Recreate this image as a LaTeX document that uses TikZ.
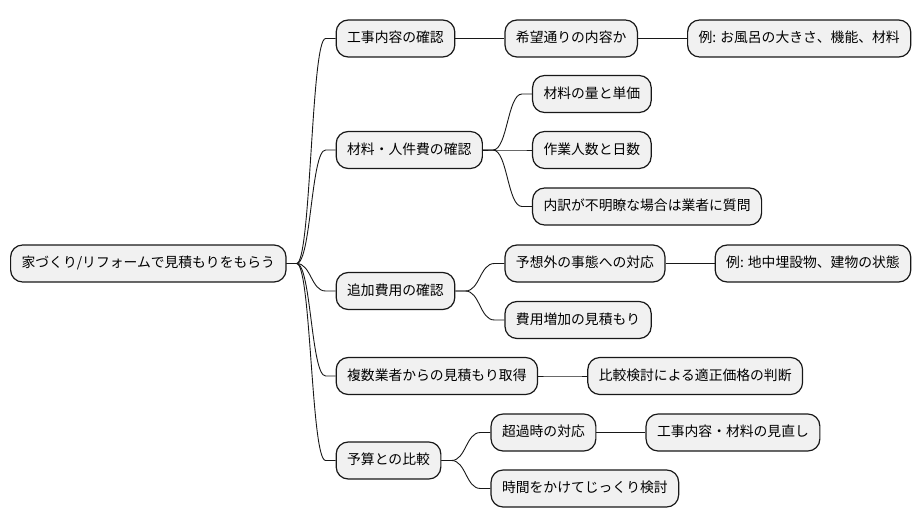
\documentclass[tikz,border=0pt]{standalone}
\usepackage{fontspec}
\setmainfont{Noto Sans CJK JP}
\definecolor{cline}{HTML}{181818}
\definecolor{cfill}{HTML}{F1F1F1}
\newcommand\mmedge[2]{\draw[edge] (#1.east) -- ++(10,0) .. controls +(14.5,0) and +(-14.5,0) .. ([xshift=-10pt]#2.west) -- (#2.west);}
\begin{document}
\begin{tikzpicture}[x=1pt,y=-1pt,
  box/.style={draw=cline, fill=cfill, line width=1.2pt, rounded corners=12pt,
    minimum height=37pt, inner xsep=11pt, inner ysep=0pt, anchor=west,
    text height=11.3pt, text depth=2.5pt,
    font=\fontsize{13.8pt}{16pt}\selectfont},
  edge/.style={draw=cline, line width=0.9pt}]
\useasboundingbox (0,0) rectangle (922,527);
\node[box] (root) at (10,263.5) {家づくり/リフォームで見積もりをもらう};
% level 1
\node[box, xshift=49pt] (A) at (root.east |- 0,38.5) {工事内容の確認};
\node[box, xshift=49pt] (B) at (root.east |- 0,150) {材料・人件費の確認};
\node[box, xshift=49pt] (C) at (root.east |- 0,291) {追加費用の確認};
\node[box, xshift=49pt] (D) at (root.east |- 0,376) {複数業者からの見積もり取得};
\node[box, xshift=49pt] (E) at (root.east |- 0,460.5) {予算との比較};
% level 2
\node[box, xshift=49pt] (A1) at (A.east |- 0,38.5) {希望通りの内容か};
\node[box, xshift=49pt] (A1a) at (A1.east |- 0,38.5) {例: お風呂の大きさ、機能、材料};
\node[box, xshift=49pt] (B1) at (B.east |- 0,94) {材料の量と単価};
\node[box, xshift=49pt] (B2) at (B.east |- 0,150) {作業人数と日数};
\node[box, xshift=49pt] (B3) at (B.east |- 0,206.5) {内訳が不明瞭な場合は業者に質問};
\node[box, xshift=49pt] (C1) at (C.east |- 0,263.5) {予想外の事態への対応};
\node[box, xshift=49pt] (C1a) at (C1.east |- 0,263.5) {例: 地中埋設物、建物の状態};
\node[box, xshift=49pt] (C2) at (C.east |- 0,320) {費用増加の見積もり};
\node[box, xshift=49pt] (D1) at (D.east |- 0,376) {比較検討による適正価格の判断};
\node[box, xshift=49pt] (E1) at (E.east |- 0,432.5) {超過時の対応};
\node[box, xshift=49pt] (E1a) at (E1.east |- 0,432.5) {工事内容・材料の見直し};
\node[box, xshift=49pt] (E2) at (E.east |- 0,488.5) {時間をかけてじっくり検討};
% edges
\mmedge{root}{A}
\mmedge{root}{B}
\mmedge{root}{C}
\mmedge{root}{D}
\mmedge{root}{E}
\mmedge{A}{A1}
\mmedge{A1}{A1a}
\mmedge{B}{B1}
\mmedge{B}{B2}
\mmedge{B}{B3}
\mmedge{C}{C1}
\mmedge{C1}{C1a}
\mmedge{C}{C2}
\mmedge{D}{D1}
\mmedge{E}{E1}
\mmedge{E1}{E1a}
\mmedge{E}{E2}
\end{tikzpicture}
\end{document}
